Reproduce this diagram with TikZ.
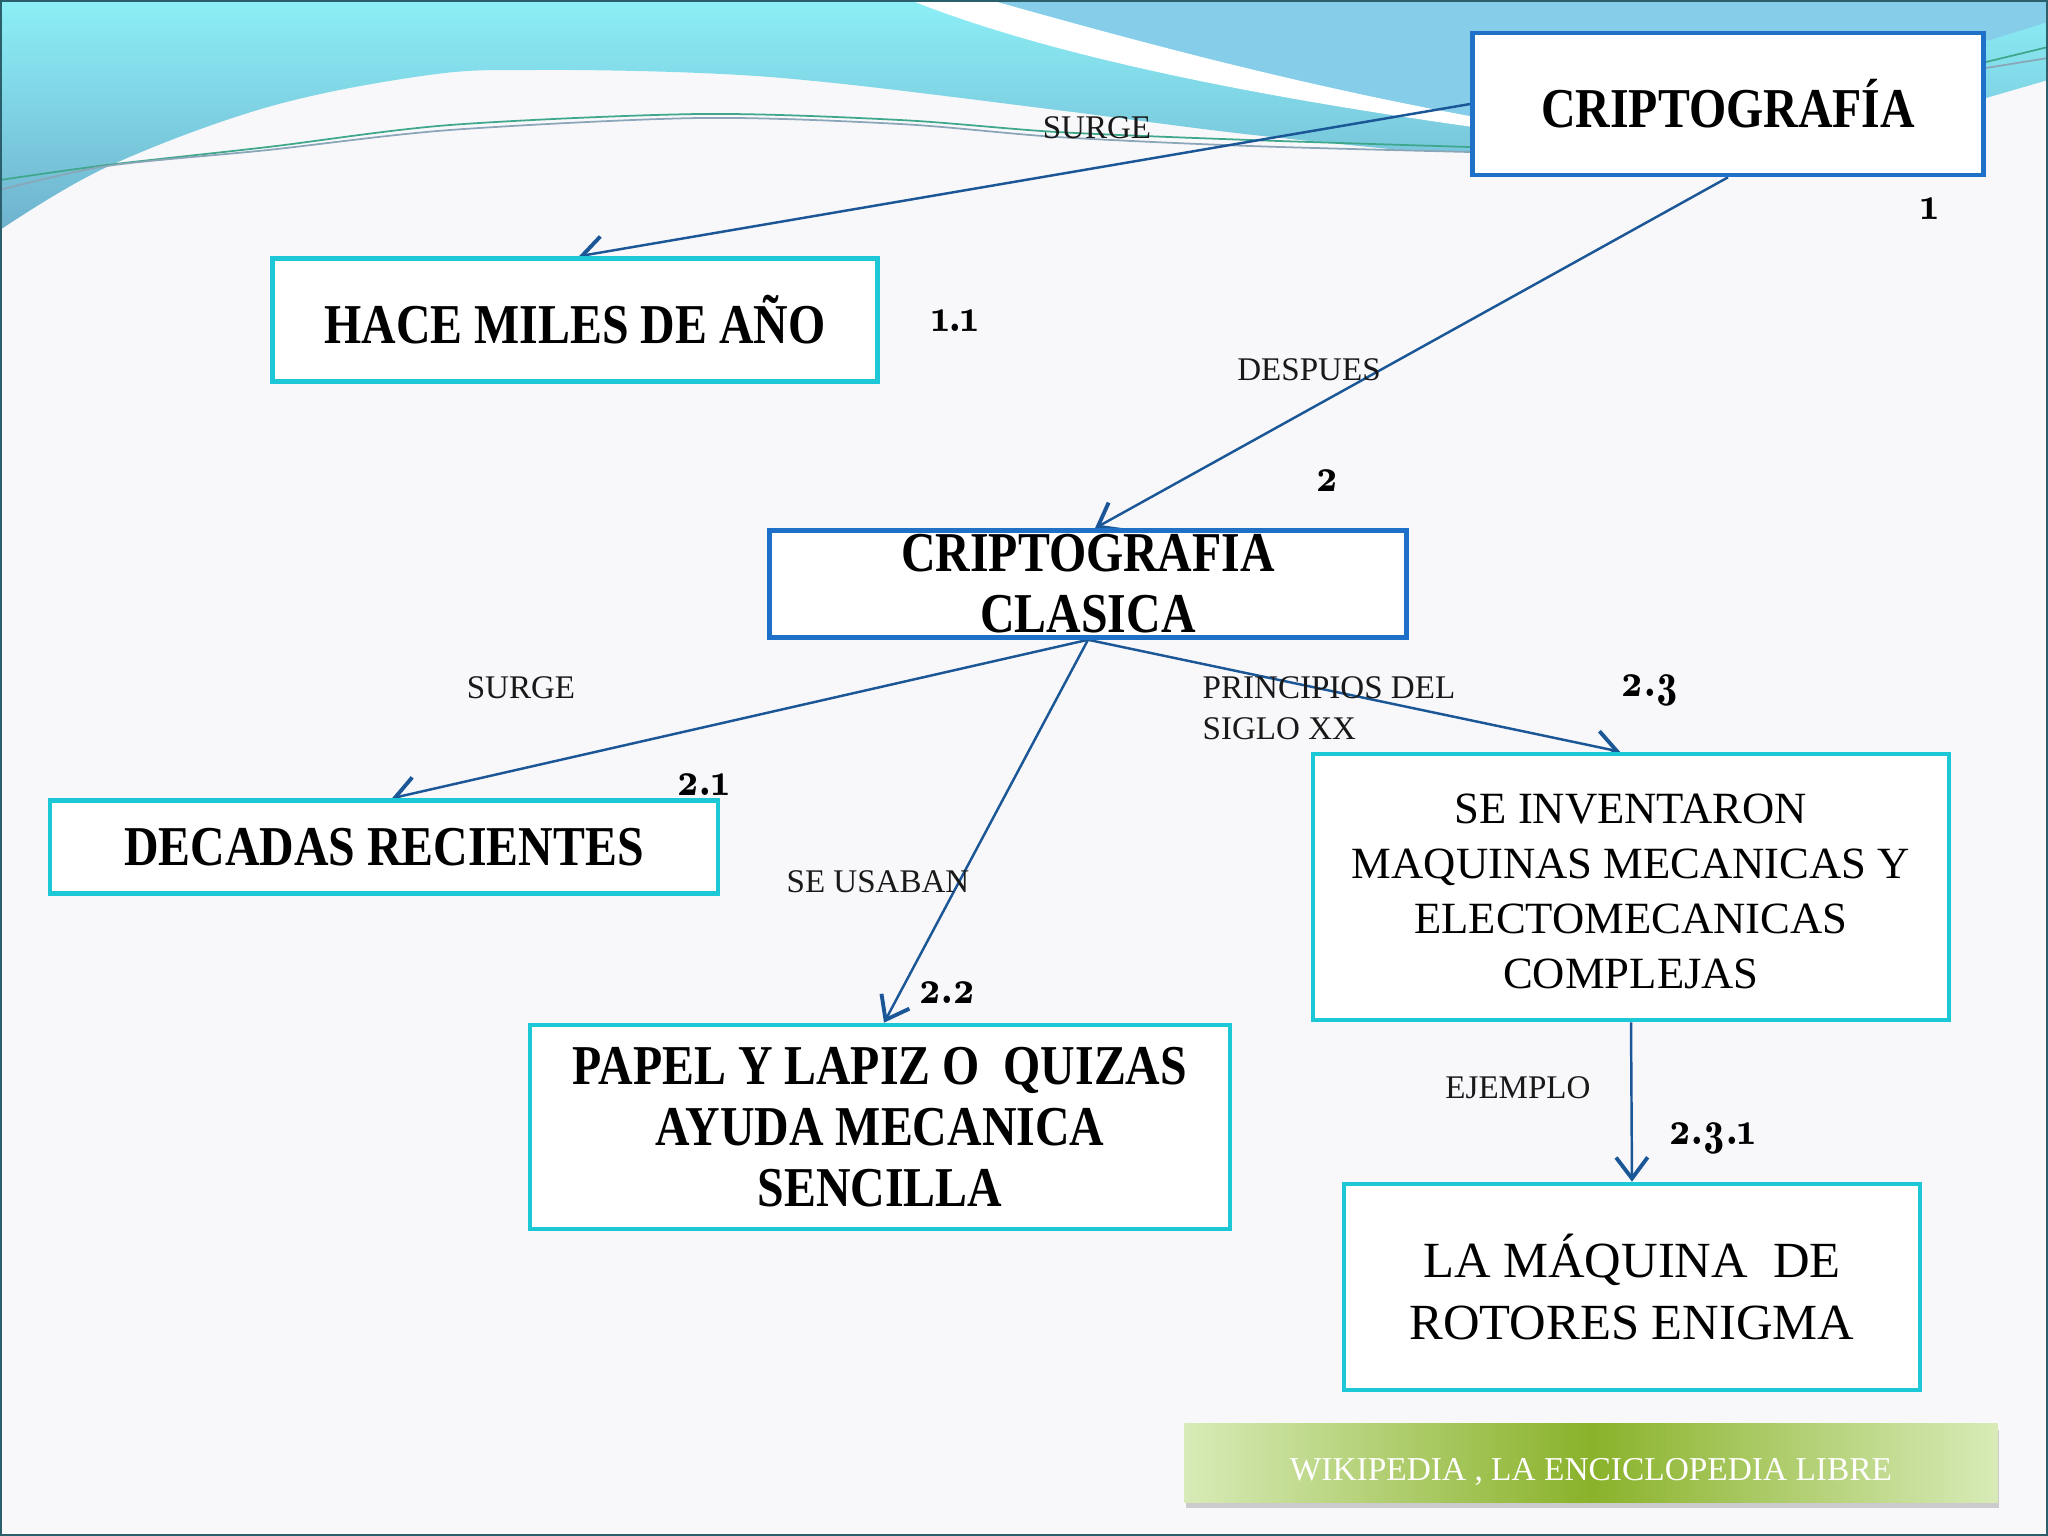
\documentclass[tikz,border=0pt]{standalone}
\usepackage{fontspec}
\setmainfont{Liberation Serif}
\newfontfamily\bfnt[FakeStretch=0.85]{Liberation Serif}
\newfontfamily\numfont{lmromandemi10-regular.otf}[Numbers=OldStyle, FakeStretch=0.88]
\usetikzlibrary{arrows.meta,calc,shadows}
\definecolor{boxblue}{HTML}{1F70C8}
\definecolor{boxcyan}{HTML}{1CC8D6}
\definecolor{arr}{HTML}{1B5797}
\definecolor{slidebg}{HTML}{F8F8FA}
\definecolor{cyA}{HTML}{8CEFF6}
\definecolor{cyB}{HTML}{6FB2CE}
\definecolor{upblue}{HTML}{86CDEA}
\definecolor{gA}{HTML}{D8EBB8}
\definecolor{gB}{HTML}{8AB22A}
\definecolor{lnA}{HTML}{3FA88C}
\definecolor{lnB}{HTML}{8AA6B8}
\definecolor{framec}{HTML}{2B5F6B}
\pgfdeclarelayer{bg}
\pgfdeclarelayer{edges}
\pgfsetlayers{bg,edges,main}
\tikzset{
  boxbase/.style={draw, fill=white, line width=1.28pt, inner sep=0pt, text=black},
  bluebox/.style={boxbase, draw=boxblue},
  cyanbox/.style={boxbase, draw=boxcyan},
  bigb/.style={font=\bfnt\bfseries\fontsize{16pt}{17.3pt}\selectfont},
  regb/.style={font=\fontsize{12.7pt}{15.6pt}\selectfont},
  maqf/.style={font=\fontsize{14.4pt}{17.6pt}\selectfont},
  lbl/.style={font=\fontsize{9.4pt}{11.6pt}\selectfont, text=black!90, inner sep=0pt},
  num/.style={font=\numfont\fontsize{13.5pt}{16pt}\selectfont, text=black, inner sep=0pt},
  conn/.style={draw=arr, line width=0.7pt, -{Straight Barb[length=6pt,width=9pt,line width=1.1pt]}},
  banner/.style={minimum width=8.13cm, minimum height=0.78cm, inner sep=0pt,
     left color=gA, right color=gA, middle color=gB, text=white,
     text height=0.98em, text depth=0pt,
     font=\fontsize{9.5pt}{11pt}\selectfont,
     drop shadow={shadow xshift=0.4pt, shadow yshift=-1.6pt, opacity=0.3, fill=black!60}},
  lineA/.style={draw=lnA, line width=0.5pt},
  lineB/.style={draw=lnB, line width=0.5pt}
}
\begin{document}
\begin{tikzpicture}[x=0.01cm, y=-0.01cm]
\useasboundingbox (0,0) rectangle (2048,1536);
\begin{pgfonlayer}{bg}
  \fill[slidebg] (0,0) rectangle (2048,1536);
  \shade[top color=cyA, bottom color=cyB] (0,0) -- (2048,0) -- (2048,80) -- (1986,98) -- (1470,152)
     -- plot[smooth, tension=0.6] coordinates {(1400,150) (1236,133) (1057,110) (834,83) (700,73) (536,70) (429,75) (268,107) (107,167) (0,230)} -- cycle;
  \fill[upblue] (990,0) .. controls (1150,45) and (1300,85) .. (1480,118) -- (1990,40) -- (2048,22) -- (2048,0) -- cycle;
  \fill[white] (910,0) .. controls (1060,60) and (1280,100) .. (1480,128) -- (1480,118) .. controls (1300,85) and (1150,45) .. (990,0) -- cycle;
  \draw[lineA] plot[smooth] coordinates {(0,180) (107,165) (268,147) (450,125) (700,114) (900,120) (1057,132) (1250,140) (1470,147)};
  \draw[lineB] plot[smooth] coordinates {(0,190) (107,166) (268,150) (450,130) (700,118) (900,124) (1057,137) (1250,146) (1470,152)};
  \draw[lineA] (1986,62) -- (2048,47);
  \draw[lineB] (1986,68) -- (2048,58);
  \draw[framec, line width=0.6pt] (1,1) rectangle (2047,1535);
\end{pgfonlayer}

\node[bluebox, bigb, minimum width=5.11cm, minimum height=1.42cm] (crypt) at (1728,104) {CRIPTOGRAFÍA};
\node[cyanbox, bigb, minimum width=6.05cm, minimum height=1.23cm] (hace) at (575,320) {HACE MILES DE AÑO};
\node[bluebox, bigb, align=center, minimum width=6.37cm, minimum height=1.07cm] (clas) at (1088,584) {CRIPTOGRAFIA\\CLASICA};
\node[cyanbox, bigb, minimum width=6.68cm, minimum height=0.93cm] (dec) at (384,847) {DECADAS RECIENTES};
\node[cyanbox, regb, align=center, minimum width=6.36cm, minimum height=2.66cm] (inv) at (1631,887) {\rule{0pt}{0.86em}SE INVENTARON\\MAQUINAS MECANICAS Y\\ELECTOMECANICAS\\COMPLEJAS};
\node[cyanbox, bigb, align=center, minimum width=7.00cm, minimum height=2.04cm] (papel) at (880,1127) {PAPEL Y LAPIZ O\ \ QUIZAS\\AYUDA MECANICA\\SENCILLA};
\node[cyanbox, maqf, align=center, minimum width=5.76cm, minimum height=2.06cm] (maq) at (1632,1287) {LA MÁQUINA\ \ DE\\ROTORES ENIGMA};

\node[banner] (wiki) at (1591,1463) {WIKIPEDIA , LA ENCICLOPEDIA LIBRE};

\node[lbl] (l1) at (1097,128) {SURGE};
\node[lbl] (l2) at (1309,370) {DESPUES};
\node[lbl] (l3) at (521,688) {SURGE};
\node[lbl, anchor=west, align=left] (l4) at (1202,708) {PRINCIPIOS DEL\\SIGLO XX};
\node[lbl] (l5) at (878,882) {SE USABAN};
\node[lbl] (l6) at (1518,1088) {EJEMPLO};

\node[num] (n1) at (1930,209) {1};
\node[num] (n11) at (955,321) {1.1};
\node[num] (n2) at (1327,481) {2};
\node[num] (n21) at (703,785) {2.1};
\node[num] (n22) at (947,993) {2.2};
\node[num] (n23) at (1650,690) {2.3};
\node[num] (n231) at (1712,1138) {2.3.1};

\begin{pgfonlayer}{edges}
  \draw[conn] (crypt.west) -- ([xshift=0.04cm]hace.north);
  \draw[conn] (crypt.south) -- ([xshift=0.07cm]clas.north);
  \draw[conn] (clas.south) -- ([xshift=0.08cm]dec.north);
  \draw[conn] (clas.south) -- ([xshift=0.04cm]papel.north);
  \draw[conn] (clas.south) -- ([xshift=-0.11cm]inv.north);
  \draw[conn] (inv.south) -- (maq.north);
\end{pgfonlayer}
\end{tikzpicture}
\end{document}
